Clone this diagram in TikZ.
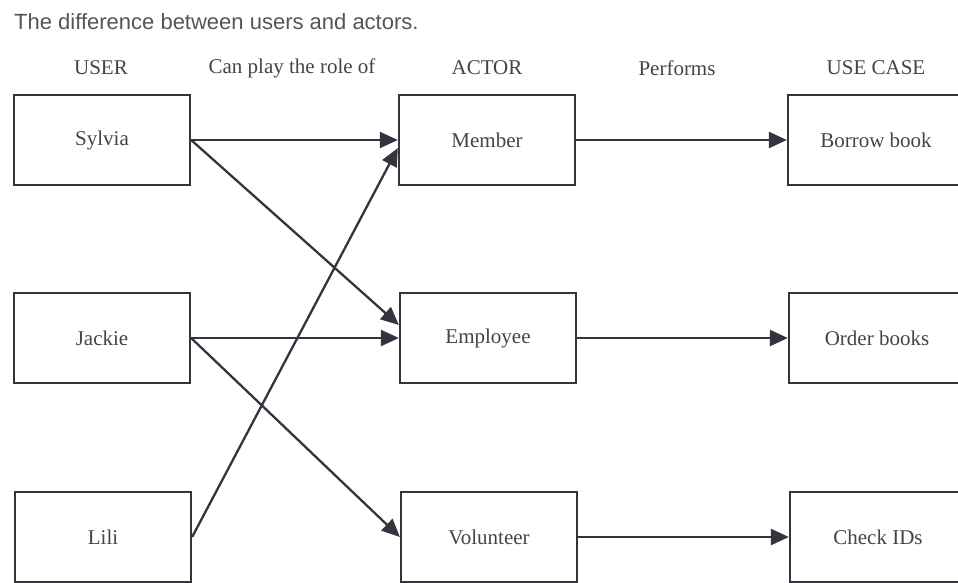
\documentclass[tikz,border=0pt]{standalone}
\usepackage{fontspec}
\setmainfont{Liberation Serif}
\newfontfamily\titlefont{Liberation Sans}
\usetikzlibrary{arrows.meta}
\definecolor{inkline}{HTML}{34343F}
\definecolor{inktext}{HTML}{444444}
\definecolor{titlegray}{HTML}{555555}
\begin{document}
\begin{tikzpicture}[x=1pt,y=-1pt,
  box/.style={draw=inkline,line width=2.3pt,minimum width=176pt,minimum height=90pt,inner sep=0pt,
    text=inktext,font=\fontsize{21}{24}\selectfont},
  head/.style={text=inktext,font=\fontsize{21}{24}\selectfont,inner sep=0pt},
  conn/.style={draw=inkline,line width=2.3pt,-{Triangle[length=18pt,width=16pt]}}
]
\useasboundingbox (0,0) rectangle (958,583);
\node[anchor=west,text=titlegray,font=\titlefont\fontsize{22}{25}\selectfont,inner sep=0pt] (title) at (14,22) {The difference between users and actors.};
\node[head] (huser) at (101,68) {USER};
\node[head] (hrole) at (292,68) {Can play the role of};
\node[head] (hactor) at (487,68) {ACTOR};
\node[head] (hperf) at (677,68) {Performs};
\node[head] (huc) at (876,68) {USE CASE};
% users
\node[box] (sylvia) at (102,140) {Sylvia};
\node[box] (jackie) at (102,338) {Jackie};
\node[box] (lili) at (103,537) {Lili};
% actors
\node[box] (member) at (487,140) {Member};
\node[box] (employee) at (488,338) {Employee};
\node[box] (volunteer) at (489,537) {Volunteer};
% use cases
\node[box] (borrow) at (876,140) {Borrow book};
\node[box] (order) at (877,338) {Order books};
\node[box] (check) at (878,537) {Check IDs};
% connectors
\draw[conn] (sylvia.east) -- (member.west);
\draw[conn] (sylvia.east) -- ([yshift=13pt]employee.west);
\draw[conn] (jackie.east) -- (employee.west);
\draw[conn] (jackie.east) -- (volunteer.west);
\draw[conn] (lili.east) -- ([yshift=-8pt]member.west);
\draw[conn] (member.east) -- (borrow.west);
\draw[conn] (employee.east) -- (order.west);
\draw[conn] (volunteer.east) -- (check.west);
\end{tikzpicture}
\end{document}
